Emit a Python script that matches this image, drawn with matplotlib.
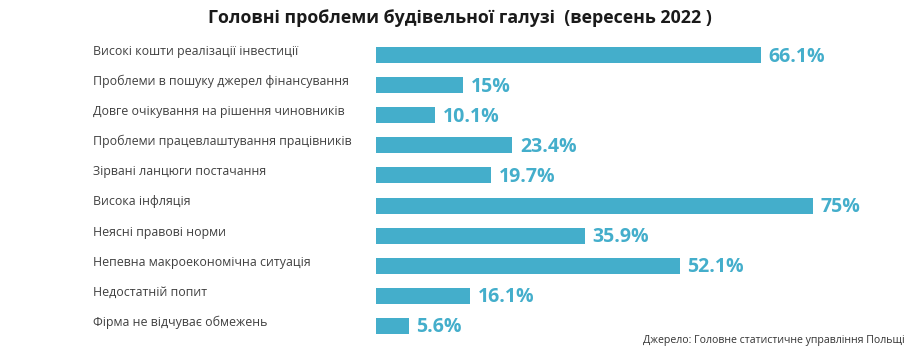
import matplotlib.pyplot as plt

# data from the chart
problems = [
    "Високі кошти реалізації інвестиції",
    "Проблеми в пошуку джерел фінансування",
    "Довге очікування на рішення чиновників",
    "Проблеми працевлаштування працівників",
    "Зірвані ланцюги постачання",
    "Висока інфляція",
    "Неясні правові норми",
    "Непевна макроекономічна ситуація",
    "Недостатній попит",
    "Фірма не відчуває обмежень",
]
shares = [66.1, 15, 10.1, 23.4, 19.7, 75, 35.9, 52.1, 16.1, 5.6]
value_labels = ["66.1%", "15%", "10.1%", "23.4%", "19.7%", "75%", "35.9%", "52.1%", "16.1%", "5.6%"]

bar_color = "#44aecb"
plt.rcParams['font.family'] = ['Open Sans', 'DejaVu Sans']

fig = plt.figure(figsize=(9.2, 3.56), dpi=100, facecolor='w')
ax = fig.add_axes([376 / 920, 15 / 356, 542 / 920, 301 / 356])

ypos = list(range(len(problems)))
ax.barh(ypos, shares, height=0.53, color=bar_color)
ax.set_xlim(0, 93)
ax.set_ylim(len(problems) - 0.5, -0.5)
ax.axis('off')

# value labels at the end of bars
for y, v, lab in zip(ypos, shares, value_labels):
    ax.text(v + 1.3, y + 0.05, lab, va='center', ha='left', fontsize=14,
            fontweight='bold', color=bar_color)

# category labels on the left, aligned with rows
trans = ax.get_yaxis_transform()
for y, name in zip(ypos, problems):
    ax.text(-283 / 542, y - 0.12, name, transform=trans, ha='left', va='center',
            fontsize=8.95, color='#404040')

fig.text(0.5, 0.95, "Головні проблеми будівельної галузі  (вересень 2022 )",
         ha='center', va='center', fontsize=12.8, fontweight='bold', color='#1a1a1a')
fig.text(905 / 920, 1 - 340 / 356, "Джерело: Головне статистичне управління Польщі",
         ha='right', va='center', fontsize=7.6, color='#333333')

fig.savefig('out.png', dpi=100)
